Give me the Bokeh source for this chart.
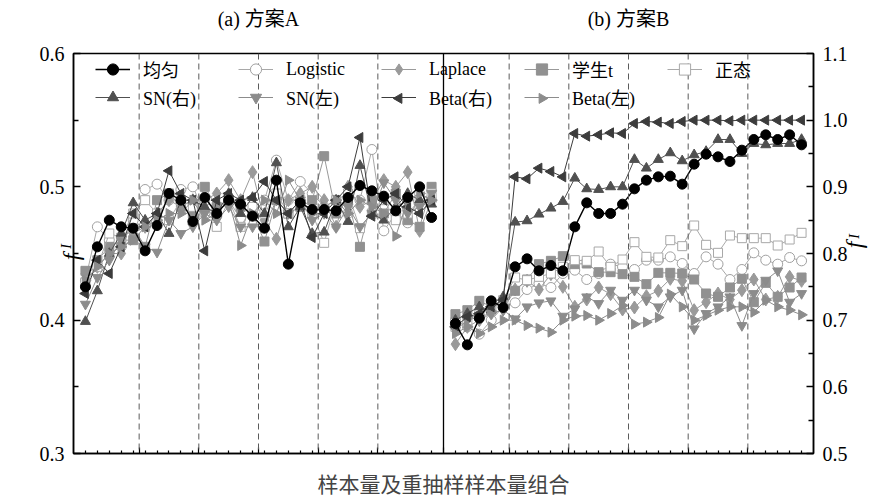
import numpy as np
from bokeh.plotting import figure
from bokeh.models import (Range1d, LinearAxis, FixedTicker, Span, Legend, LegendItem,
                          NumeralTickFormatter)
from bokeh.embed import file_html
from bokeh.resources import INLINE

# ---------------- data ----------------
series_names = ["均匀", "Logistic", "Laplace", "学生t", "正态", "SN(右)", "SN(左)", "Beta(右)", "Beta(左)"]

x_a = list(range(1, 31))          # 方案A: 6 groups x 5 combos
x_b = list(range(32, 62))         # 方案B: 6 groups x 5 combos
group_bounds = [5.5, 10.5, 15.5, 20.5, 25.5, 36.5, 41.5, 46.5, 51.5, 56.5]
panel_divider = 31
x_minor = list(range(1, 31)) + list(range(32, 62))
panel_centers = [15.5, 46.5]

y_ticks_a = [0.3, 0.4, 0.5, 0.6]
y_minor_a = [0.35, 0.45, 0.55]
y_ticks_b = [0.5, 0.6, 0.7, 0.8, 0.9, 1.0, 1.1]
y_minor_b = [0.55, 0.65, 0.75, 0.85, 0.95, 1.05]

titles = ["(a) 方案A", "(b) 方案B"]
x_label = "样本量及重抽样样本量组合"
y_label = "f"
y_label_sub = "I"

uniform_a = [0.425, 0.455, 0.475, 0.470, 0.469, 0.452, 0.471, 0.495, 0.490, 0.474,
             0.492, 0.480, 0.490, 0.487, 0.478, 0.469, 0.505, 0.442, 0.488, 0.483,
             0.483, 0.482, 0.492, 0.501, 0.497, 0.493, 0.482, 0.492, 0.500, 0.477]
logistic_a = [0.430, 0.470, 0.460, 0.455, 0.475, 0.498, 0.502, 0.490, 0.498, 0.500,
              0.480, 0.485, 0.490, 0.476, 0.480, 0.490, 0.520, 0.490, 0.504, 0.495,
              0.485, 0.490, 0.480, 0.490, 0.528, 0.467, 0.480, 0.473, 0.495, 0.490]
laplace_a = [0.435, 0.440, 0.450, 0.450, 0.465, 0.470, 0.480, 0.490, 0.485, 0.490,
             0.490, 0.495, 0.505, 0.490, 0.511, 0.475, 0.461, 0.490, 0.495, 0.500,
             0.490, 0.470, 0.500, 0.485, 0.490, 0.505, 0.500, 0.511, 0.467, 0.490]
student_a = [0.437, 0.445, 0.455, 0.460, 0.460, 0.455, 0.490, 0.495, 0.485, 0.480,
             0.500, 0.485, 0.490, 0.485, 0.480, 0.459, 0.490, 0.480, 0.485, 0.490,
             0.523, 0.480, 0.490, 0.455, 0.490, 0.480, 0.495, 0.475, 0.470, 0.500]
normal_a = [0.428, 0.440, 0.465, 0.462, 0.480, 0.490, 0.480, 0.475, 0.490, 0.485,
            0.490, 0.470, 0.490, 0.470, 0.485, 0.480, 0.495, 0.480, 0.490, 0.480,
            0.458, 0.490, 0.495, 0.469, 0.480, 0.490, 0.475, 0.480, 0.490, 0.495]
snr_a = [0.399, 0.422, 0.450, 0.465, 0.488, 0.475, 0.480, 0.465, 0.490, 0.490,
         0.485, 0.480, 0.495, 0.480, 0.492, 0.480, 0.518, 0.470, 0.485, 0.465,
         0.466, 0.490, 0.474, 0.516, 0.480, 0.475, 0.485, 0.495, 0.490, 0.487]
snl_a = [0.412, 0.432, 0.445, 0.460, 0.470, 0.455, 0.451, 0.475, 0.465, 0.470,
         0.480, 0.475, 0.485, 0.470, 0.470, 0.470, 0.490, 0.480, 0.490, 0.475,
         0.480, 0.470, 0.485, 0.470, 0.480, 0.503, 0.490, 0.480, 0.485, 0.495]
betar_a = [0.420, 0.445, 0.435, 0.455, 0.480, 0.470, 0.480, 0.512, 0.495, 0.490,
           0.452, 0.490, 0.495, 0.490, 0.492, 0.504, 0.490, 0.480, 0.490, 0.462,
           0.480, 0.490, 0.500, 0.537, 0.478, 0.490, 0.495, 0.485, 0.480, 0.490]
betal_a = [0.430, 0.440, 0.450, 0.455, 0.460, 0.470, 0.475, 0.480, 0.480, 0.490,
           0.475, 0.480, 0.490, 0.456, 0.480, 0.490, 0.480, 0.505, 0.490, 0.480,
           0.485, 0.490, 0.480, 0.490, 0.485, 0.480, 0.463, 0.490, 0.495, 0.490]

uniform_b = [0.695, 0.663, 0.703, 0.729, 0.719, 0.780, 0.792, 0.774, 0.782, 0.774,
             0.840, 0.876, 0.860, 0.860, 0.874, 0.897, 0.910, 0.915, 0.916, 0.904,
             0.934, 0.949, 0.945, 0.938, 0.955, 0.971, 0.978, 0.971, 0.978, 0.963]
logistic_b = [0.700, 0.690, 0.679, 0.700, 0.720, 0.726, 0.746, 0.755, 0.749, 0.770,
              0.775, 0.761, 0.770, 0.784, 0.780, 0.776, 0.790, 0.790, 0.795, 0.785,
              0.770, 0.795, 0.784, 0.761, 0.776, 0.801, 0.790, 0.784, 0.794, 0.789]
laplace_b = [0.664, 0.690, 0.700, 0.710, 0.716, 0.746, 0.759, 0.746, 0.769, 0.750,
             0.720, 0.731, 0.749, 0.739, 0.716, 0.719, 0.736, 0.744, 0.762, 0.759,
             0.715, 0.727, 0.740, 0.731, 0.745, 0.761, 0.731, 0.735, 0.765, 0.759]
student_b = [0.709, 0.715, 0.729, 0.720, 0.725, 0.744, 0.761, 0.784, 0.789, 0.796,
             0.784, 0.785, 0.772, 0.772, 0.769, 0.765, 0.754, 0.771, 0.771, 0.770,
             0.761, 0.740, 0.735, 0.749, 0.762, 0.727, 0.756, 0.735, 0.749, 0.764]
normal_b = [0.690, 0.700, 0.710, 0.715, 0.730, 0.764, 0.760, 0.765, 0.770, 0.780,
            0.790, 0.789, 0.803, 0.780, 0.791, 0.817, 0.795, 0.794, 0.820, 0.811,
            0.842, 0.813, 0.801, 0.827, 0.823, 0.823, 0.823, 0.812, 0.821, 0.831]
snr_b = [0.700, 0.710, 0.720, 0.715, 0.735, 0.847, 0.849, 0.859, 0.868, 0.878,
         0.913, 0.897, 0.896, 0.900, 0.900, 0.941, 0.928, 0.941, 0.951, 0.939,
         0.948, 0.953, 0.971, 0.971, 0.950, 0.965, 0.963, 0.965, 0.965, 0.971]
snl_b = [0.685, 0.700, 0.705, 0.710, 0.715, 0.702, 0.720, 0.726, 0.729, 0.706,
         0.717, 0.735, 0.725, 0.745, 0.730, 0.745, 0.730, 0.720, 0.735, 0.745,
         0.687, 0.710, 0.720, 0.735, 0.692, 0.740, 0.760, 0.774, 0.727, 0.740]
betar_b = [0.690, 0.705, 0.710, 0.720, 0.730, 0.915, 0.912, 0.928, 0.923, 0.915,
           0.980, 0.976, 0.978, 0.981, 0.980, 0.995, 0.998, 0.997, 0.995, 0.998,
           1.000, 1.000, 1.000, 0.999, 1.000, 1.000, 1.000, 1.000, 1.000, 1.000]
betal_b = [0.680, 0.690, 0.680, 0.690, 0.700, 0.700, 0.692, 0.688, 0.682, 0.700,
           0.706, 0.707, 0.700, 0.710, 0.722, 0.694, 0.697, 0.704, 0.739, 0.720,
           0.700, 0.707, 0.715, 0.720, 0.720, 0.712, 0.730, 0.720, 0.715, 0.708]

data_a = [uniform_a, logistic_a, laplace_a, student_a, normal_a, snr_a, snl_a, betar_a, betal_a]
data_b = [uniform_b, logistic_b, laplace_b, student_b, normal_b, snr_b, snl_b, betar_b, betal_b]

# ---------------- styles ----------------
styles = [
    dict(marker="circle", angle=0.0, lc="#000000", mc="#000000", fc="#000000", size=10, lw=1.4),
    dict(marker="circle", angle=0.0, lc="#a8a8a8", mc="#a0a0a0", fc="#ffffff", size=10, lw=1.0),
    dict(marker="diamond", angle=0.0, lc="#9a9a9a", mc="#9a9a9a", fc="#9a9a9a", size=13, lw=1.0),
    dict(marker="square", angle=0.0, lc="#999999", mc="#919191", fc="#919191", size=9, lw=1.0),
    dict(marker="square", angle=0.0, lc="#aaaaaa", mc="#a8a8a8", fc="#ffffff", size=9, lw=1.0),
    dict(marker="triangle", angle=0.0, lc="#505050", mc="#505050", fc="#505050", size=10, lw=1.0),
    dict(marker="inverted_triangle", angle=0.0, lc="#8c8c8c", mc="#8c8c8c", fc="#8c8c8c", size=10, lw=1.0),
    dict(marker="triangle", angle=np.pi / 2, lc="#3c3c3c", mc="#3c3c3c", fc="#3c3c3c", size=10, lw=1.0),
    dict(marker="triangle", angle=-np.pi / 2, lc="#8c8c8c", mc="#8c8c8c", fc="#8c8c8c", size=10, lw=1.0),
]

SERIF = "'Liberation Serif', 'Noto Sans CJK SC'"

W, H = 885, 499
BL, BR, BT, BB = 73, 72, 53, 45
X0, X1, YA0, YA1 = 0, 62, 0.3, 0.6

p = figure(width=W, height=H, x_range=Range1d(X0, X1), y_range=Range1d(YA0, YA1),
           output_backend="svg", toolbar_location=None,
           min_border_left=BL, min_border_right=BR, min_border_top=BT, min_border_bottom=BB)
p.extra_y_ranges = {"b": Range1d(0.5, 1.1)}
p.xgrid.visible = False
p.ygrid.visible = False
p.outline_line_color = "black"
p.outline_line_width = 1.5
p.background_fill_color = "white"
p.border_fill_color = "white"

# dashed group separators and panel divider
for gb in group_bounds:
    p.add_layout(Span(location=gb, dimension="height", line_color="#5a5a5a",
                      line_dash="6 4", line_width=1))
p.add_layout(Span(location=panel_divider, dimension="height", line_color="black", line_width=1.3))

# draw series (uniform last so it sits on top)
renderers = {}
order = list(range(1, len(series_names))) + [0]
for i in order:
    st = styles[i]
    ra = []
    for xs, ys, rng in ((x_a, data_a[i], "default"), (x_b, data_b[i], "b")):
        l = p.line(xs, ys, line_color=st["lc"], line_width=st["lw"], y_range_name=rng)
        s = p.scatter(xs, ys, marker=st["marker"], angle=st["angle"], size=st["size"],
                      line_color=st["mc"], fill_color=st["fc"], line_width=1.0, y_range_name=rng)
        ra.append((l, s))
    renderers[i] = ra[0]

# ---------------- legend ----------------
LEG_X, LEG_Y = 22, 342           # bottom-left of legend inside frame (screen px)
GLYPH_W, ITEM_H, STANDOFF, LABEL_W, NCOLS = 35, 28, 13, 95, 5
rotated = [i for i in range(len(series_names)) if styles[i]["angle"] != 0.0]
items = []
for i in range(len(series_names)):
    l, s = renderers[i]
    rs = [l] if i in rotated else [l, s]
    items.append(LegendItem(label=series_names[i], renderers=rs))
legend = Legend(items=items, location=(LEG_X, LEG_Y), orientation="horizontal", ncols=NCOLS,
                background_fill_alpha=0, border_line_alpha=0, padding=0, margin=0,
                spacing=0, glyph_width=GLYPH_W, glyph_height=ITEM_H, label_height=ITEM_H,
                label_width=LABEL_W, label_standoff=STANDOFF, label_text_font=SERIF,
                label_text_font_size="18px", label_text_color="black")
p.add_layout(legend)

# legend symbols for the rotated triangles (Bokeh legends ignore marker angle)
frame_w = W - BL - BR
frame_h = H - BT - BB
px_per_x = frame_w / (X1 - X0)
px_per_y = frame_h / (YA1 - YA0)
nrows = 2
leg_top = frame_h - LEG_Y - nrows * ITEM_H     # from frame top
for i in rotated:
    col, row = i % NCOLS, i // NCOLS
    cx = LEG_X + col * (GLYPH_W + STANDOFF + LABEL_W) + GLYPH_W / 2
    cy = leg_top + row * ITEM_H + ITEM_H / 2
    st = styles[i]
    p.scatter([X0 + cx / px_per_x], [YA1 - cy / px_per_y], marker=st["marker"], angle=st["angle"],
              size=st["size"], line_color=st["mc"], fill_color=st["fc"], line_width=1.0)

# ---------------- axes ----------------
def text_axis(rng, pos, text, size, angle, standoff):
    ax = LinearAxis(y_range_name=rng, ticker=FixedTicker(ticks=[pos], minor_ticks=[]))
    ax.major_label_overrides = {pos: text}
    ax.axis_line_alpha = 0
    ax.major_tick_in = ax.major_tick_out = 0
    ax.minor_tick_in = ax.minor_tick_out = 0
    ax.major_label_orientation = angle
    ax.major_label_standoff = standoff
    ax.major_label_text_font = SERIF
    ax.major_label_text_font_size = size
    ax.major_label_text_font_style = "italic"
    ax.major_label_text_color = "black"
    return ax

xa = p.xaxis[0]
xa.ticker = FixedTicker(ticks=group_bounds + [panel_divider], minor_ticks=x_minor)
xa.major_label_overrides = {t: "" for t in group_bounds + [panel_divider]}
xa.major_label_text_font_size = "1px"
xa.major_label_standoff = 0
xa.major_tick_in = 6
xa.major_tick_out = 0
xa.minor_tick_in = 3
xa.minor_tick_out = 0
xa.axis_line_width = 1.5
xa.major_tick_line_width = 1.2
xa.minor_tick_line_width = 1.2
xa.axis_label = x_label
xa.axis_label_text_font = SERIF
xa.axis_label_text_font_size = "21px"
xa.axis_label_text_font_style = "normal"
xa.axis_label_standoff = 19

# panel titles as labels of a top axis
ta = LinearAxis(ticker=FixedTicker(ticks=panel_centers, minor_ticks=[]))
ta.major_label_overrides = {c: t for c, t in zip(panel_centers, titles)}
ta.axis_line_alpha = 0
ta.major_tick_in = ta.major_tick_out = 0
ta.minor_tick_in = ta.minor_tick_out = 0
ta.major_label_standoff = 24
ta.major_label_text_font = SERIF
ta.major_label_text_font_size = "20px"
ta.major_label_text_color = "black"
p.add_layout(ta, "above")

ya = p.yaxis[0]
ya.ticker = FixedTicker(ticks=y_ticks_a, minor_ticks=y_minor_a)
yb = LinearAxis(y_range_name="b")
yb.ticker = FixedTicker(ticks=y_ticks_b, minor_ticks=y_minor_b)
p.add_layout(yb, "right")

for ax in (ya, yb):
    ax.formatter = NumeralTickFormatter(format="0.0")
    ax.major_tick_in = 7
    ax.major_tick_out = 0
    ax.minor_tick_in = 5
    ax.minor_tick_out = 0
    ax.axis_line_width = 1.5
    ax.major_tick_line_width = 1.3
    ax.minor_tick_line_width = 1.3
    ax.major_label_text_font = SERIF
    ax.major_label_text_font_size = "20px"
    ax.major_label_text_color = "black"
    ax.major_label_standoff = 9

# y titles f_I drawn as labels of bare axes
f_pos_a, sub_pos_a = 0.450, 0.4571
f_pos_b, sub_pos_b = 0.808, 0.822
p.add_layout(text_axis("default", f_pos_a, y_label, "24px", np.pi / 2, -34), "left")
p.add_layout(text_axis("default", sub_pos_a, y_label_sub, "14px", np.pi / 2, -30), "left")
p.add_layout(text_axis("b", f_pos_b, y_label, "24px", np.pi / 2, 4), "right")
p.add_layout(text_axis("b", sub_pos_b, y_label_sub, "14px", np.pi / 2, -29), "right")

open("out.html", "w").write(file_html(p, INLINE))
